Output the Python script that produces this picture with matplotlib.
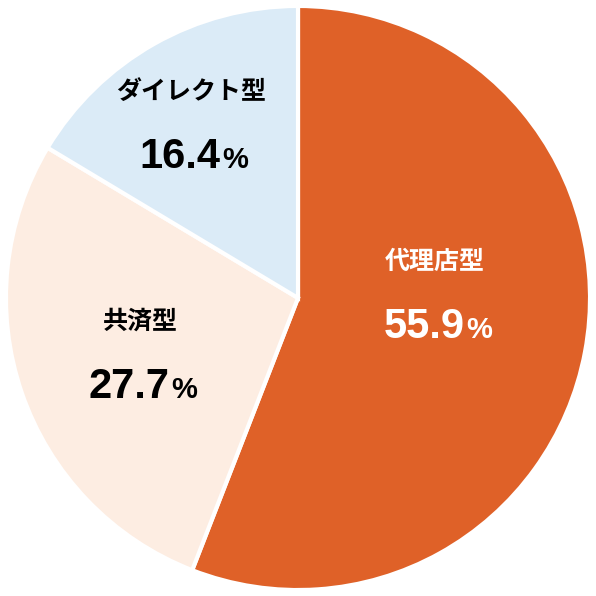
import matplotlib
matplotlib.use("Agg")
import matplotlib.pyplot as plt

labels = ["代理店型", "共済型", "ダイレクト型"]
values = [55.9, 27.7, 16.4]
colors = ["#DF6128", "#FDEDE2", "#DBEBF7"]
text_colors = ["white", "black", "black"]
label_pos = [(0.46, 0.12, -0.08), (-0.53, -0.08, -0.28), (-0.36, 0.69, 0.49)]

plt.rcParams['font.family'] = ['Noto Sans CJK JP', 'DejaVu Sans']
fig = plt.figure(figsize=(5.96, 5.96), dpi=100)
ax = fig.add_axes([0, 0, 1, 1])
ax.pie(values, colors=colors, startangle=90, counterclock=False, radius=0.98,
       wedgeprops=dict(edgecolor="white", linewidth=3))
for lab, v, (x, yl, yn), tc in zip(labels, values, label_pos, text_colors):
    ax.text(x, yl, lab, ha="center", va="center", fontsize=18, fontweight="bold", color=tc)
    ax.text(x + 0.1, yn - 0.055, f"{v:.1f}", ha="right", va="baseline", fontsize=30, fontweight="bold",
            color=tc, family="Liberation Sans")
    ax.text(x + 0.105, yn - 0.055, "%", ha="left", va="baseline", fontsize=21, fontweight="bold",
            color=tc, family="Liberation Sans")
ax.set_xlim(-1, 1)
ax.set_ylim(-1, 1)
ax.set_aspect("equal")
ax.axis("off")
fig.savefig("out.png", dpi=100)
